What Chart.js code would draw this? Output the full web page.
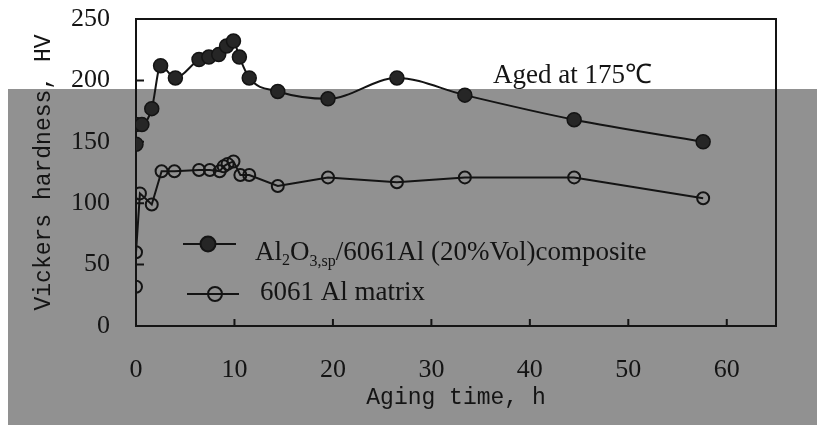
<!DOCTYPE html>
<html>
<head>
<meta charset="utf-8">
<script src="https://cdn.jsdelivr.net/npm/chart.js@4"></script>
<style>
  html, body { margin: 0; padding: 0; background: #fff; }
  #wrap { width: 817px; height: 425px; }
</style>
</head>
<body>
<div id="wrap"><canvas id="grafico"></canvas></div>
<script>
// dados (tempo em h, dureza HV)
const compositeTime = [0, 0, 0.6, 1.6, 2.5, 4, 6.4, 7.4, 8.4, 9.2, 9.9, 10.5, 11.5, 14.4, 19.5, 26.5, 33.4, 44.5, 57.6]
const compositeHV   = [148, 164, 164, 177, 212, 202, 217, 219, 221, 228, 232, 219, 202, 191, 185, 202, 188, 168, 150]

const matrixTime = [0, 0, 0.4, 1.6, 2.6, 3.9, 6.4, 7.5, 8.5, 8.9, 9.3, 9.9, 10.6, 11.5, 14.4, 19.5, 26.5, 33.4, 44.5, 57.6]
const matrixHV   = [32, 60, 108, 99, 126, 126, 127, 127, 126, 130, 132, 134, 123, 123, 114, 121, 117, 121, 121, 104]

const xTicks = [0, 10, 20, 30, 40, 50, 60]
const yTicks = [0, 50, 100, 150, 200, 250]

const serif = '"Liberation Serif", "Times New Roman", serif'
const mono = '"Liberation Mono", "DejaVu Sans Mono", monospace'
const ink = '#141414'

const pts = (xs, ys) => xs.map((x, i) => ({ x, y: ys[i] }))

// fundo cinza da digitalização + moldura, marcas internas, legenda e nota
const extras = {
  id: 'extras',
  beforeDraw(chart) {
    const c = chart.ctx
    c.save()
    c.fillStyle = '#fff'
    c.fillRect(0, 0, chart.width, chart.height)
    c.fillStyle = '#919191'
    c.fillRect(8, 89, chart.width - 8, chart.height - 89)
    c.restore()
  },
  beforeDatasetsDraw(chart) {
    const c = chart.ctx
    const a = chart.chartArea
    const xs = chart.scales.x, ys = chart.scales.y
    c.save()
    c.strokeStyle = ink
    c.lineWidth = 2
    c.strokeRect(a.left, a.top, a.right - a.left, a.bottom - a.top)
    c.beginPath()
    xTicks.slice(1).forEach(v => {
      const px = xs.getPixelForValue(v)
      c.moveTo(px, a.bottom); c.lineTo(px, a.bottom - 7)
    })
    yTicks.slice(1, -1).forEach(v => {
      const py = ys.getPixelForValue(v)
      c.moveTo(a.left, py); c.lineTo(a.left + 8, py)
    })
    c.stroke()
    c.restore()
  },
  afterDatasetsDraw(chart) {
    const c = chart.ctx
    c.save()
    c.strokeStyle = ink
    c.fillStyle = ink
    c.lineWidth = 2
    // legenda
    c.beginPath(); c.moveTo(183, 244); c.lineTo(236, 244); c.stroke()
    c.beginPath(); c.arc(208, 244, 7.5, 0, Math.PI * 2); c.fillStyle = '#262626'; c.fill(); c.stroke()
    c.beginPath(); c.moveTo(187, 294); c.lineTo(239, 294); c.stroke()
    c.beginPath(); c.arc(215, 294, 7, 0, Math.PI * 2); c.stroke()

    c.fillStyle = ink
    c.textBaseline = 'alphabetic'
    const big = '27px ' + serif, small = '16px ' + serif
    let x = 255
    const part = (t, f, dy) => { c.font = f; c.fillText(t, x, 260 + dy); x += c.measureText(t).width }
    part('Al', big, 0)
    part('2', small, 5)
    part('O', big, 0)
    part('3,sp', small, 6)
    part('/6061Al (20%Vol)composite', big, 0)

    c.font = big
    c.fillText('6061 Al matrix', 260, 300)
    c.fillText('Aged at 175\u2103', 493, 83)
    c.restore()
  }
}

const data = {
  datasets: [
    {
      label: 'Al2O3,sp/6061Al (20%Vol)composite',
      data: pts(compositeTime, compositeHV),
      borderColor: ink,
      borderWidth: 2,
      backgroundColor: '#262626',
      pointBorderColor: ink,
      pointBorderWidth: 1.5,
      pointRadius: 7,
      cubicInterpolationMode: 'monotone'
    },
    {
      label: '6061 Al matrix',
      data: pts(matrixTime, matrixHV),
      borderColor: ink,
      borderWidth: 2,
      backgroundColor: 'rgba(0,0,0,0)',
      pointBorderColor: ink,
      pointBorderWidth: 2,
      pointRadius: 6,
      tension: 0
    }
  ]
}

const config = {
  type: 'line',
  data,
  plugins: [extras],
  options: {
    responsive: false,
    animation: false,
    layout: { padding: { top: 19, right: 41, left: 0, bottom: 0 } },
    plugins: { legend: { display: false }, tooltip: { enabled: false } },
    scales: {
      x: {
        type: 'linear',
        min: 0,
        max: 65,
        afterFit: s => { s.height = 99; s.paddingLeft = 0; s.paddingRight = 0 },
        afterBuildTicks: s => { s.ticks = xTicks.map(v => ({ value: v })) },
        grid: { display: false, drawTicks: false },
        border: { display: false },
        ticks: { color: ink, font: { family: serif, size: 26 }, padding: 29 },
        title: {
          display: true,
          text: 'Aging time, h',
          color: ink,
          font: { family: mono, size: 23 },
          padding: { top: 13, bottom: 13 }
        }
      },
      y: {
        min: 0,
        max: 250,
        afterFit: s => { s.width = 136; s.paddingTop = 0; s.paddingBottom = 0 },
        afterBuildTicks: s => { s.ticks = yTicks.map(v => ({ value: v })) },
        grid: { display: false, drawTicks: false },
        border: { display: false },
        ticks: { color: ink, font: { family: serif, size: 26 }, padding: 26 },
        title: {
          display: true,
          text: 'Vickers hardness, HV',
          color: ink,
          font: { family: mono, size: 23 },
          padding: { top: 30, bottom: 30 }
        }
      }
    }
  }
}

const cv = document.getElementById('grafico')
cv.width = 817
cv.height = 425
const graph = new Chart(cv, config)
</script>
</body>
</html>
